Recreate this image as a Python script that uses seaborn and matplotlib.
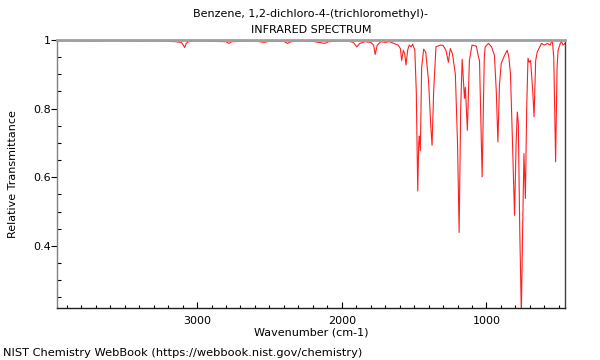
import numpy as np
import pandas as pd
import seaborn as sns
import matplotlib.pyplot as plt
from matplotlib.ticker import MultipleLocator, FuncFormatter


# Spectrum (wavenumber in cm-1, relative transmittance)
wavenumber = [
    3966, 3900, 3800, 3700, 3600, 3500, 3400, 3300, 3200, 3150,
    3110, 3095, 3086, 3075, 3060, 3000, 2900, 2800, 2781, 2760,
    2700, 2600, 2538, 2500, 2400, 2376, 2350, 2300, 2200, 2118,
    2090, 2000, 1950, 1920, 1896, 1875, 1840, 1800, 1780, 1769,
    1755, 1730, 1700, 1670, 1640, 1610, 1595, 1586, 1575, 1565,
    1556, 1545, 1534, 1520, 1510, 1495, 1485, 1475, 1468, 1464,
    1457, 1448, 1434, 1420, 1400, 1385, 1376, 1365, 1349, 1320,
    1300, 1280, 1263, 1250, 1235, 1215, 1200, 1189, 1178, 1168,
    1152, 1146, 1132, 1118, 1100, 1070, 1055, 1048, 1030, 1015,
    1009, 986, 965, 945, 932, 921, 910, 898, 875, 857,
    845, 834, 820, 806, 795, 787, 780, 770, 759, 750,
    741, 731, 722, 713, 705, 695, 680, 671, 660, 649,
    620, 600, 579, 560, 545, 535, 522, 512, 505, 490,
    482, 470, 458,
]
transmittance = [
    0.997, 0.998, 0.997, 0.996, 0.998, 0.997, 0.996, 0.997, 0.996, 0.995,
    0.993, 0.985, 0.978, 0.990, 0.995, 0.997, 0.996, 0.995, 0.990, 0.995,
    0.996, 0.997, 0.993, 0.996, 0.996, 0.990, 0.995, 0.997, 0.996, 0.990,
    0.995, 0.997, 0.996, 0.993, 0.980, 0.990, 0.995, 0.993, 0.985, 0.958,
    0.985, 0.995, 0.993, 0.995, 0.990, 0.985, 0.975, 0.940, 0.970, 0.960,
    0.927, 0.970, 0.985, 0.980, 0.988, 0.970, 0.850, 0.560, 0.700, 0.720,
    0.677, 0.920, 0.973, 0.965, 0.880, 0.750, 0.693, 0.850, 0.980, 0.985,
    0.984, 0.970, 0.935, 0.975, 0.960, 0.900, 0.700, 0.439, 0.800, 0.944,
    0.830, 0.862, 0.737, 0.940, 0.985, 0.982, 0.950, 0.940, 0.601, 0.950,
    0.980, 0.990, 0.980, 0.955, 0.850, 0.703, 0.870, 0.932, 0.955, 0.970,
    0.950, 0.900, 0.700, 0.489, 0.700, 0.790, 0.760, 0.450, 0.200, 0.450,
    0.669, 0.538, 0.800, 0.947, 0.935, 0.940, 0.850, 0.776, 0.940, 0.965,
    0.990, 0.985, 0.990, 0.985, 1.000, 0.950, 0.645, 0.920, 0.970, 0.990,
    0.995, 0.985, 0.990,
]

title_lines = ['Benzene, 1,2-dichloro-4-(trichloromethyl)-', 'INFRARED SPECTRUM']
footer = 'NIST Chemistry WebBook (https://webbook.nist.gov/chemistry)'

df = pd.DataFrame({'wavenumber': wavenumber, 'transmittance': transmittance})

sns.set_style('white')
plt.rcParams['font.family'] = ['DejaVu Sans']
plt.rcParams['text.color'] = 'black'
plt.rcParams['axes.labelcolor'] = 'black'
plt.rcParams['xtick.color'] = 'black'
plt.rcParams['ytick.color'] = 'black'

fig = plt.figure(figsize=(6, 3.6), dpi=100)
ax = fig.add_axes([0.0955, 0.1444, 0.8467, 0.7446])

sns.lineplot(data=df, x='wavenumber', y='transmittance', sort=False,
             color='#ff2020', linewidth=0.8, ax=ax)

ax.set_xlim(3966, 455)
ax.set_ylim(0.219, 1.0)

# ticks: x inward, y major outward / minor inward
ax.xaxis.set_major_locator(MultipleLocator(1000))
ax.xaxis.set_minor_locator(MultipleLocator(100))
ax.yaxis.set_major_locator(MultipleLocator(0.2))
ax.yaxis.set_minor_locator(MultipleLocator(0.05))
ax.yaxis.set_major_formatter(FuncFormatter(lambda v, p: f'{v:g}'))
ax.tick_params(axis='x', which='major', direction='in', length=4, width=0.8, labelsize=8, pad=6)
ax.tick_params(axis='x', which='minor', direction='in', length=2.5, width=0.8)
ax.tick_params(axis='y', which='major', direction='out', length=4, width=0.8, labelsize=8, pad=0.5)
ax.tick_params(axis='y', which='minor', direction='in', length=3, width=0.8)
ax.tick_params(left=True, bottom=True, which='both')

ax.set_xlabel('Wavenumber (cm-1)', fontsize=8, labelpad=1)
ax.set_ylabel('Relative Transmittance', fontsize=8, labelpad=11)

ax.spines['top'].set_color('#a0a0a0')
ax.spines['top'].set_linewidth(2)
ax.spines['left'].set_color('#808080')
ax.spines['bottom'].set_color('#202020')
ax.spines['right'].set_color('#404040')
for s in ax.spines.values():
    if s is not ax.spines['top']:
        s.set_linewidth(1)

fig.text(0.518, 0.962, title_lines[0], ha='center', va='center', fontsize=8)
fig.text(0.518, 0.917, title_lines[1], ha='center', va='center', fontsize=8)
fig.text(0.005, 0.02, footer, ha='left', va='center', fontsize=8.2)

plt.savefig('out.png', dpi=100)
